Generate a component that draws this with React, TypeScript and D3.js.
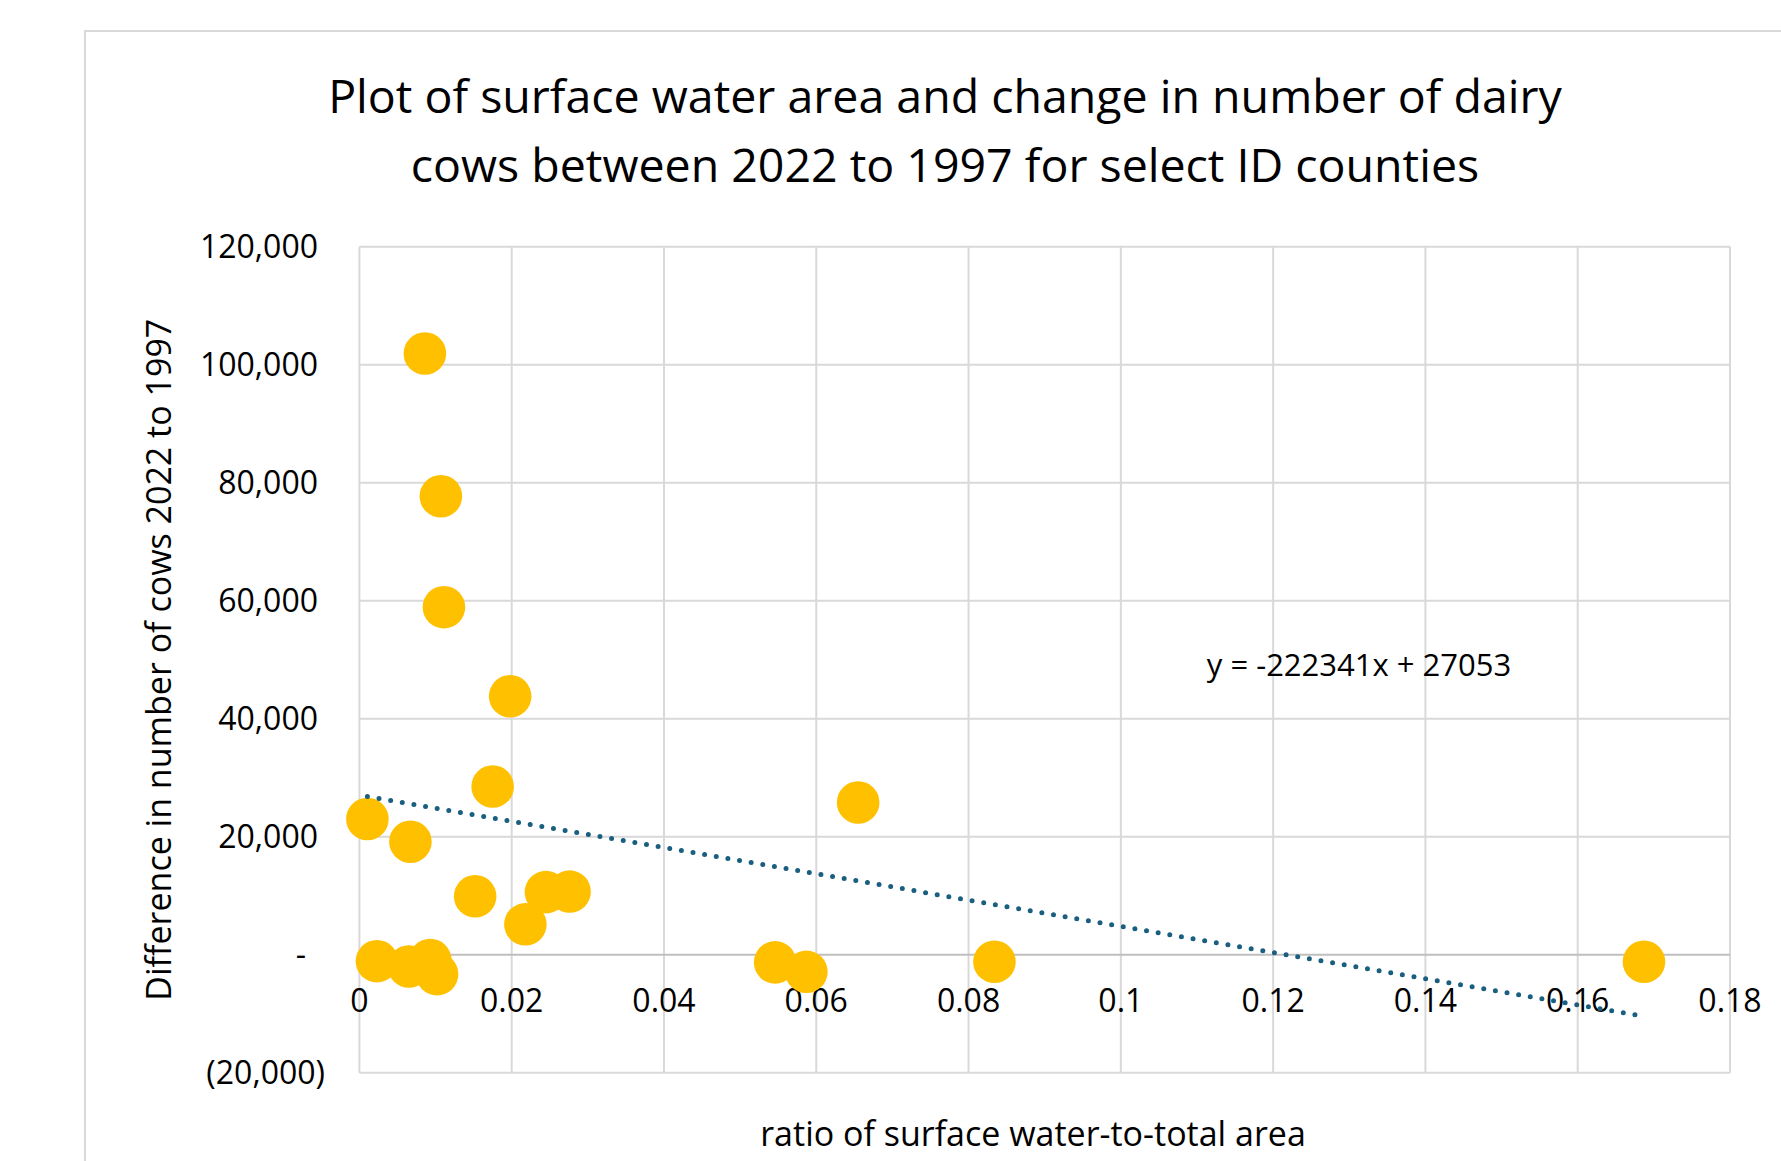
import React from "react";
import * as d3 from "d3";

const titleLines = [
  "Plot of surface water area and change in number of dairy",
  "cows between 2022 to 1997 for select ID counties",
];
const xAxisTitle = "ratio of surface water-to-total area";
const yAxisTitle = "Difference in number of cows 2022 to 1997";
const equationText = "y = -222341x + 27053";

const waterRatio = [
  0.0086, 0.0107, 0.0111, 0.0198, 0.0175, 0.00105, 0.0067, 0.0152, 0.0245, 0.0276,
  0.0218, 0.0023, 0.0065, 0.0093, 0.0102, 0.0546, 0.0587, 0.0655, 0.0834, 0.1687,
];
const cowChange = [
  101900, 77700, 58900, 43800, 28500, 23000, 19150, 9900, 10600, 10700,
  5150, -1100, -2000, -900, -3300, -1300, -2900, 25800, -1200, -1200,
];
const trendSlope = -222341;
const trendIntercept = 27053;

const xTicks = [0, 0.02, 0.04, 0.06, 0.08, 0.1, 0.12, 0.14, 0.16, 0.18];
const xTickLabels = ["0", "0.02", "0.04", "0.06", "0.08", "0.1", "0.12", "0.14", "0.16", "0.18"];
const yTicks = [-20000, 0, 20000, 40000, 60000, 80000, 100000, 120000];
const yTickLabels = ["(20,000)", "-", "20,000", "40,000", "60,000", "80,000", "100,000", "120,000"];

export default function App() {
  const W = 1781;
  const H = 1161;
  const left = 359.4;
  const right = 1730;
  const top = 246.7;
  const bottom = 1072.7;
  const x = d3.scaleLinear().domain([0, 0.18]).range([left, right]);
  const y = d3.scaleLinear().domain([-20000, 120000]).range([bottom, top]);
  const font = "'Open Sans', sans-serif";
  const points = waterRatio.map((r, i) => ({ r, c: cowChange[i] }));
  const xMin = d3.min(waterRatio) as number;
  const xMax = d3.max(waterRatio) as number;
  const trend = d3
    .line<number>()
    .x((v) => x(v))
    .y((v) => y(trendSlope * v + trendIntercept));

  const yLabelX = (lab: string) => {
    if (lab.startsWith("(")) return 325;
    if (lab === "-") return 306;
    return 318;
  };

  return (
    <svg
      width={W}
      height={H}
      style={{ position: "absolute", left: 0, top: 0, background: "#fff" }}
      fontFamily={font}
    >
      <rect x={0} y={0} width={W} height={H} fill="#fff" />
      <rect x={85} y={31} width={W} height={H} fill="#fff" stroke="#D9D9D9" strokeWidth={2} />
      {titleLines.map((t, i) => (
        <text
          key={i}
          x={945}
          y={113 + i * 69}
          textAnchor="middle"
          fontSize={46.5}
          fill="#000"
        >
          {t}
        </text>
      ))}
      {xTicks.map((t, i) => (
        <line key={"vx" + i} x1={x(t)} x2={x(t)} y1={top} y2={bottom} stroke="#D9D9D9" strokeWidth={2} />
      ))}
      {yTicks.map((t, i) => (
        <line
          key={"hy" + i}
          x1={left}
          x2={right}
          y1={y(t)}
          y2={y(t)}
          stroke={t === 0 ? "#BFBFBF" : "#D9D9D9"}
          strokeWidth={2}
        />
      ))}
      {yTicks.map((t, i) => (
        <text
          key={"yl" + i}
          x={yLabelX(yTickLabels[i])}
          y={y(t)}
          dy="0.35em"
          textAnchor="end"
          fontSize={32}
          fill="#000"
        >
          {yTickLabels[i]}
        </text>
      ))}
      {xTicks.map((t, i) => (
        <text
          key={"xl" + i}
          x={x(t)}
          y={1001}
          dy="0.35em"
          textAnchor="middle"
          fontSize={32}
          fill="#000"
        >
          {xTickLabels[i]}
        </text>
      ))}
      {points.map((p, i) => (
        <circle key={"p" + i} cx={x(p.r)} cy={y(p.c)} r={21.3} fill="#FFC000" />
      ))}
      <path
        d={trend([xMin, xMax]) || ""}
        fill="none"
        stroke="#1A5F80"
        strokeWidth={5}
        strokeLinecap="round"
        strokeDasharray="0 11.8"
      />
      <text x={1359} y={665} dy="0.35em" textAnchor="middle" fontSize={31} fill="#000">
        {equationText}
      </text>
      <text x={1033} y={1134} dy="0.35em" textAnchor="middle" fontSize={34} fill="#000">
        {xAxisTitle}
      </text>
      <text
        transform={`translate(159, ${(top + bottom) / 2}) rotate(-90)`}
        dy="0.35em"
        textAnchor="middle"
        fontSize={34}
        fill="#000"
      >
        {yAxisTitle}
      </text>
    </svg>
  );
}
